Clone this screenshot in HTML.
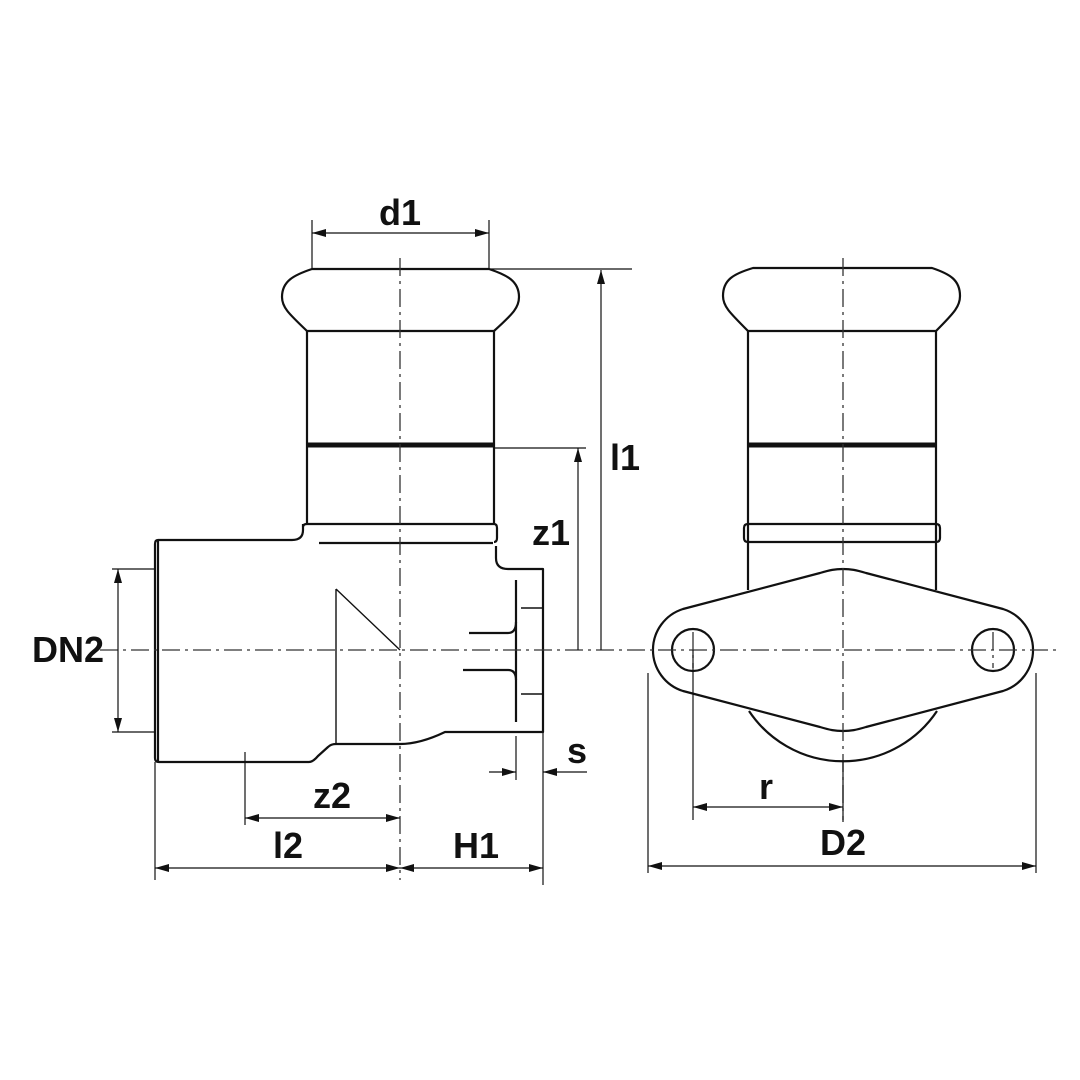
<!DOCTYPE html>
<html><head><meta charset="utf-8"><style>
html,body{margin:0;padding:0;background:#fff;}
svg{display:block}
text{font-family:"Liberation Sans",sans-serif;font-weight:bold;fill:#111;}
</style></head><body>
<svg width="1080" height="1080" viewBox="0 0 1080 1080" xmlns="http://www.w3.org/2000/svg">
<defs>
<marker id="a" viewBox="0 0 14 8" refX="14" refY="4" markerWidth="14" markerHeight="8" orient="auto-start-reverse" markerUnits="userSpaceOnUse"><path d="M0,0L14,4L0,8Z" fill="#111"/></marker>
</defs>
<g fill="none" stroke="#111" stroke-width="2.2" stroke-linejoin="round">
<!-- left cap -->
<path d="M312,269 L489,269 C507,275 519,281 519,297 C519,307 514,313 494,331 L307,331 C288,313 282,307 282,297 C282,281 294,275 312,269Z"/>
<path d="M307,331 L307,524 M494,331 L494,524"/>
<path d="M303,527 Q303,524 307,524 L494,524 Q497,524 497,528 L497,538 Q497,542 494,542"/>
<path d="M319,543 L493,543"/>
<!-- body -->
<path d="M303,524 L303,530 Q303,540 292,540 L158,540 Q155,540 155,544 L155,758 Q155,762 159,762 L309,762 Q313,762 318,756 L328,747 Q331,744 336,744 L400,744 Q420,744 445,732 L543,732 L543,569 L508,569 Q496,569 496,558 L496,546"/>
<path d="M158,540 L158,762"/>
<!-- right cap -->
<path d="M753,268 L932,268 C950,274 960,280 960,296 C960,306 955,312 936,331 L748,331 C729,312 723,306 723,296 C723,280 733,274 753,268Z"/>
<path d="M748,331 L748,590 M936,331 L936,590"/>
<path d="M748,524 L936,524 Q940,524 940,528 L940,538 Q940,542 936,542 L748,542 Q744,542 744,538 L744,528 Q744,524 748,524Z"/>
<!-- lower arc -->
<path d="M749,711 A113,113 0 0 0 937,711"/>
<!-- flange -->
<path d="M843,569 C835,569 830,570 820,573 L683,609 A43,43 0 0 0 683,691 L820,727 C830,730 835,731 843,731 C851,731 856,730 866,727 L1003,691 A43,43 0 0 0 1003,609 L866,573 C856,570 851,569 843,569Z" fill="#fff"/>
<circle cx="693" cy="650" r="21"/>
<circle cx="993" cy="650" r="21"/>
<!-- inner right features -->
<path d="M516,580 L516,722"/>
<path d="M469,633 L508,633 Q516,633 516,622 M463,670 L508,670 Q516,670 516,680"/>
</g>
<g stroke="#111" stroke-width="5" fill="none">
<path d="M307,445 L494,445 M748,445 L936,445"/>
</g>
<g fill="none" stroke="#111" stroke-width="1.4">
<path d="M521,608 L543,608 M521,694 L543,694"/>
<path d="M336,589 L336,744 M336,589 L400,650"/>
</g>
<!-- centre lines -->
<g stroke="#333" stroke-width="1.3" fill="none" stroke-dasharray="18,5,3,5">
<path d="M100,650 L1058,650"/>
<path d="M400,258 L400,880"/>
<path d="M843,258 L843,820"/>
<path d="M693,632 L693,668 M993,632 L993,668"/>
</g>
<!-- dimension lines -->
<g stroke="#111" stroke-width="1.2" fill="none">
<path d="M312,220 L312,269 M489,220 L489,269"/>
<path d="M312,233 L489,233" marker-start="url(#a)" marker-end="url(#a)"/>
<path d="M489,269 L632,269 M494,448 L586,448"/>
<path d="M601,270 L601,650" marker-start="url(#a)"/>
<path d="M578,448 L578,650" marker-start="url(#a)"/>
<path d="M112,569 L155,569 M112,732 L155,732"/>
<path d="M118,569 L118,732" marker-start="url(#a)" marker-end="url(#a)"/>
<path d="M516,736 L516,780 M543,732 L543,885 M155,762 L155,880 M245,752 L245,825"/>
<path d="M489,772 L516,772" marker-end="url(#a)"/>
<path d="M587,772 L543,772" marker-end="url(#a)"/>
<path d="M245,818 L400,818" marker-start="url(#a)" marker-end="url(#a)"/>
<path d="M155,868 L400,868" marker-start="url(#a)" marker-end="url(#a)"/>
<path d="M400,868 L543,868" marker-start="url(#a)" marker-end="url(#a)"/>
<path d="M648,673 L648,873 M1036,673 L1036,873 M693,650 L693,820 M843,760 L843,822"/>
<path d="M693,807 L843,807" marker-start="url(#a)" marker-end="url(#a)"/>
<path d="M648,866 L1036,866" marker-start="url(#a)" marker-end="url(#a)"/>
</g>
<g font-size="36" text-anchor="middle">
<text x="400" y="225">d1</text>
<text x="625" y="470">l1</text>
<text x="551" y="545">z1</text>
<text x="68" y="662">DN2</text>
<text x="577" y="763">s</text>
<text x="332" y="808">z2</text>
<text x="288" y="858">l2</text>
<text x="476" y="858">H1</text>
<text x="766" y="799">r</text>
<text x="843" y="855">D2</text>
</g>
</svg>
</body></html>
